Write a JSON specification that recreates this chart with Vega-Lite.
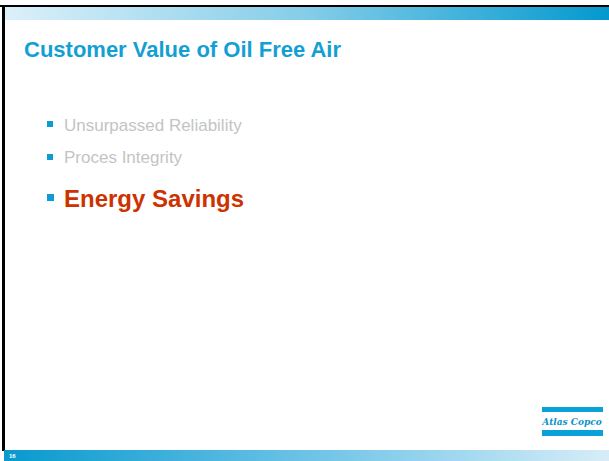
{
  "$schema": "https://vega.github.io/schema/vega-lite/v6.json",
  "width": 609,
  "height": 461,
  "padding": 0,
  "autosize": {"type": "none"},
  "background": "#ffffff",
  "config": {"view": {"stroke": null}},
  "datasets": {
    "border": [{"x": 0, "x2": 609, "y": 5, "y2": 7}, {"x": 2, "x2": 5, "y": 5, "y2": 451}],
    "topbar": [{"x": 5, "x2": 609, "y": 7, "y2": 20}],
    "bottombar": [{"x": 4, "x2": 609, "y": 450, "y2": 461}],
    "bullets": [
      {"x": 47, "x2": 53, "y": 121, "y2": 127},
      {"x": 47, "x2": 53, "y": 154, "y2": 160},
      {"x": 47, "x2": 54, "y": 194, "y2": 201}
    ],
    "logostripes": [{"x": 542, "x2": 603, "y": 407, "y2": 412}, {"x": 542, "x2": 603, "y": 430, "y2": 436}],
    "title": [{"x": 24, "y": 57, "text": "Customer Value of Oil Free Air"}],
    "graybullets": [
      {"x": 64, "y": 131, "text": "Unsurpassed Reliability"},
      {"x": 64, "y": 163, "text": "Proces Integrity"}
    ],
    "redbullet": [{"x": 64, "y": 207, "text": "Energy Savings"}],
    "page": [{"x": 9, "y": 458, "text": "16"}],
    "logo": [{"x": 572, "y": 424.5, "text": "Atlas Copco"}]
  },
  "layer": [
    {
      "data": {"name": "border"},
      "mark": {"type": "rect", "color": "#000000"},
      "encoding": {
        "x": {"field": "x", "type": "quantitative", "scale": {"domain": [0, 609], "nice": false, "zero": false}, "axis": null},
        "x2": {"field": "x2"},
        "y": {"field": "y", "type": "quantitative", "scale": {"domain": [0, 461], "nice": false, "zero": false, "reverse": true}, "axis": null},
        "y2": {"field": "y2"}
      }
    },
    {
      "data": {"name": "topbar"},
      "mark": {"type": "rect", "fill": {"gradient": "linear", "x1": 0, "x2": 1, "y1": 0, "y2": 0, "stops": [{"offset": 0, "color": "#dcf0f9"}, {"offset": 0.5, "color": "#84cde8"}, {"offset": 1, "color": "#0399cf"}]}},
      "encoding": {
        "x": {"field": "x", "type": "quantitative", "axis": null},
        "x2": {"field": "x2"},
        "y": {"field": "y", "type": "quantitative", "axis": null},
        "y2": {"field": "y2"}
      }
    },
    {
      "data": {"name": "bottombar"},
      "mark": {"type": "rect", "fill": {"gradient": "linear", "x1": 0, "x2": 1, "y1": 0, "y2": 0, "stops": [{"offset": 0, "color": "#0799cf"}, {"offset": 0.5, "color": "#6cc3e6"}, {"offset": 1, "color": "#d6edf8"}]}},
      "encoding": {
        "x": {"field": "x", "type": "quantitative", "axis": null},
        "x2": {"field": "x2"},
        "y": {"field": "y", "type": "quantitative", "axis": null},
        "y2": {"field": "y2"}
      }
    },
    {
      "data": {"name": "bullets"},
      "mark": {"type": "rect", "color": "#0d9bd6"},
      "encoding": {
        "x": {"field": "x", "type": "quantitative", "axis": null},
        "x2": {"field": "x2"},
        "y": {"field": "y", "type": "quantitative", "axis": null},
        "y2": {"field": "y2"}
      }
    },
    {
      "data": {"name": "logostripes"},
      "mark": {"type": "rect", "color": "#0aa0d8"},
      "encoding": {
        "x": {"field": "x", "type": "quantitative", "axis": null},
        "x2": {"field": "x2"},
        "y": {"field": "y", "type": "quantitative", "axis": null},
        "y2": {"field": "y2"}
      }
    },
    {
      "data": {"name": "title"},
      "mark": {"type": "text", "align": "left", "baseline": "alphabetic", "font": "Liberation Sans", "fontSize": 22, "fontWeight": "bold", "color": "#139fd3"},
      "encoding": {
        "x": {"field": "x", "type": "quantitative", "axis": null},
        "y": {"field": "y", "type": "quantitative", "axis": null},
        "text": {"field": "text"}
      }
    },
    {
      "data": {"name": "graybullets"},
      "mark": {"type": "text", "align": "left", "baseline": "alphabetic", "font": "Liberation Sans", "fontSize": 17, "color": "#c4c4c4"},
      "encoding": {
        "x": {"field": "x", "type": "quantitative", "axis": null},
        "y": {"field": "y", "type": "quantitative", "axis": null},
        "text": {"field": "text"}
      }
    },
    {
      "data": {"name": "redbullet"},
      "mark": {"type": "text", "align": "left", "baseline": "alphabetic", "font": "Liberation Sans", "fontSize": 24, "fontWeight": "bold", "color": "#cc3300"},
      "encoding": {
        "x": {"field": "x", "type": "quantitative", "axis": null},
        "y": {"field": "y", "type": "quantitative", "axis": null},
        "text": {"field": "text"}
      }
    },
    {
      "data": {"name": "page"},
      "mark": {"type": "text", "align": "left", "baseline": "alphabetic", "font": "Liberation Sans", "fontSize": 6, "fontWeight": "bold", "color": "#ffffff"},
      "encoding": {
        "x": {"field": "x", "type": "quantitative", "axis": null},
        "y": {"field": "y", "type": "quantitative", "axis": null},
        "text": {"field": "text"}
      }
    },
    {
      "data": {"name": "logo"},
      "mark": {"type": "text", "align": "center", "baseline": "alphabetic", "font": "DejaVu Serif", "fontSize": 9, "fontWeight": "bold", "fontStyle": "italic", "color": "#0b93c9"},
      "encoding": {
        "x": {"field": "x", "type": "quantitative", "axis": null},
        "y": {"field": "y", "type": "quantitative", "axis": null},
        "text": {"field": "text"}
      }
    }
  ]
}
